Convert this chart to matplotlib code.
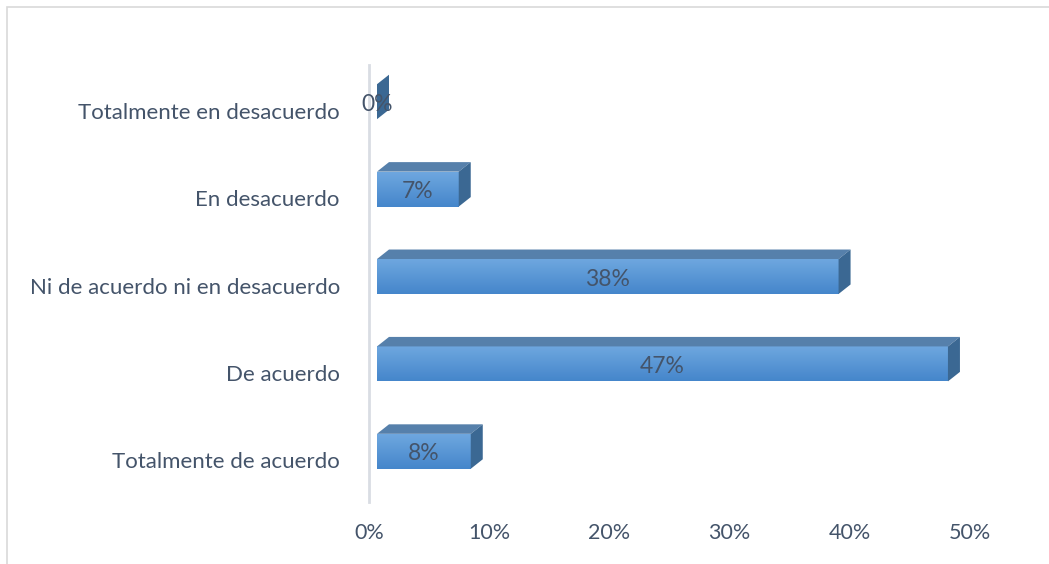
import matplotlib.pyplot as plt
import numpy as np
from matplotlib.patches import Polygon, Rectangle
from matplotlib.transforms import ScaledTranslation, IdentityTransform
from matplotlib.colors import LinearSegmentedColormap

# Data (bottom to top)
categories = ['Totalmente de acuerdo', 'De acuerdo', 'Ni de acuerdo ni en desacuerdo',
              'En desacuerdo', 'Totalmente en desacuerdo']
values = [0.078, 0.475, 0.384, 0.068, 0.0]
value_labels = ['8%', '47%', '38%', '7%', '0%']
x_ticks = [0, 0.1, 0.2, 0.3, 0.4, 0.5]
x_ticklabels = ['0%', '10%', '20%', '30%', '40%', '50%']

W, H = 1049, 564
DPI = 100
text_color = '#44546a'
plt.rcParams['font.family'] = ['Lato', 'DejaVu Sans']

fig = plt.figure(figsize=(W / DPI, H / DPI), dpi=DPI)
ax = fig.add_axes([369 / W, (H - 502) / H, (970 - 369) / W, (502 - 65) / H])

pos = np.arange(len(categories))
ax.set_xlim(0, 0.5)
ax.set_ylim(-0.5, len(categories) - 0.5)

# front face shifted by the 3D depth (pixels)
front_off = ScaledTranslation(8 / DPI, 7 / DPI, fig.dpi_scale_trans)
front_trans = ax.transData + front_off
depth_x, depth_y = 12, 9.5

bars = ax.barh(pos, values, height=0.4, color='#5b9bd5', edgecolor='none', zorder=2)
grad = np.linspace(0, 1, 64).reshape(-1, 1)
cmap = LinearSegmentedColormap.from_list('bar', ['#4586cb', '#6ea7df'])
for b in bars:
    b.set_transform(front_trans)
    x0, y0, w, h = b.get_x(), b.get_y(), b.get_width(), b.get_height()
    if w > 0:
        im = ax.imshow(grad, cmap=cmap, extent=[x0, x0 + w, y0, y0 + h], aspect='auto',
                       origin='lower', zorder=2.1, interpolation='bilinear')
        im.set_transform(front_trans)
        im.set_clip_path(b)
    # corners in pixels
    (px0, py0), (px1, py1) = front_trans.transform([(x0, y0), (x0 + w, y0 + h)])
    top = [(px0, py1), (px1, py1), (px1 + depth_x, py1 + depth_y), (px0 + depth_x, py1 + depth_y)]
    side = [(px1, py0), (px1, py1), (px1 + depth_x, py1 + depth_y), (px1 + depth_x, py0 + depth_y)]
    ax.add_patch(Polygon(top, closed=True, facecolor='#5680ab', edgecolor='none',
                         transform=IdentityTransform(), zorder=2.2, clip_on=False))
    ax.add_patch(Polygon(side, closed=True, facecolor='#3b6893', edgecolor='none',
                         transform=IdentityTransform(), zorder=2.3, clip_on=False))

ax.set_xlim(0, 0.5)
ax.set_ylim(-0.5, len(categories) - 0.5)

# data labels centred on the front face
label_trans = front_trans + ScaledTranslation(0, -2.5 / DPI, fig.dpi_scale_trans)
for p, v, lab in zip(pos, values, value_labels):
    ax.text(v / 2, p, lab, transform=label_trans, ha='center', va='center',
            fontsize=16.5, color=text_color, zorder=5)

ax.set_yticks(pos)
ax.set_yticklabels(categories)
ax.set_xticks(x_ticks)
ax.set_xticklabels(x_ticklabels)
ax.tick_params(axis='y', length=0, pad=21, labelsize=16, labelcolor=text_color)
ax.tick_params(axis='x', length=0, pad=15, labelsize=15.5, labelcolor=text_color)
lab_off = ScaledTranslation(0, -2 / DPI, fig.dpi_scale_trans)
for t in ax.get_yticklabels():
    t.set_transform(t.get_transform() + lab_off)

for s in ['top', 'right', 'bottom']:
    ax.spines[s].set_visible(False)
ax.spines['left'].set_color('#d9dde3')
ax.spines['left'].set_linewidth(2)

# chart area border
fig.patches.append(Rectangle((6.5 / W, -0.1), 1.2, (H - 7) / H + 0.1, transform=fig.transFigure,
                             fill=False, edgecolor='#d9d9d9', linewidth=1.2))

fig.savefig('out.png', dpi=DPI)
